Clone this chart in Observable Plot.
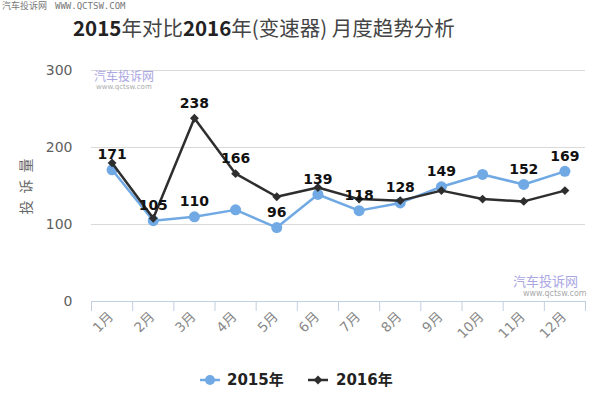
<!DOCTYPE html>
<html><head><meta charset="utf-8">
<script src="https://cdn.jsdelivr.net/npm/d3@7"></script>
<script src="https://cdn.jsdelivr.net/npm/@observablehq/plot@0.6"></script>
<style>
body{margin:0;background:#fff;}
#wrap{position:relative;width:600px;height:410px;overflow:hidden;font-family:"DejaVu Sans","Noto Sans CJK SC",sans-serif;}
#chart{position:absolute;left:0;top:0;}
.abs{position:absolute;white-space:nowrap;}
#title{left:73px;top:12px;font-size:20.5px;color:#444;font-family:"Noto Sans CJK SC",sans-serif;line-height:30px;}
#title b{color:#222;font-weight:bold;}
#ytitle{left:25px;top:183px;transform:translate(-50%,-50%) rotate(-90deg);font-size:14px;color:#666;letter-spacing:7px;font-family:"Noto Sans CJK SC",sans-serif;}
.legtxt{font-size:15px;font-weight:bold;color:#222;top:370px;line-height:20px;}
.wm1{font-family:"Noto Sans CJK SC",sans-serif;color:#aaa6e2;}
.wm2{color:#aaa;}
</style></head>
<body>
<div id="wrap">
  <div class="abs" style="left:2px;top:0px;font-size:9px;color:#777;font-family:'Noto Sans CJK SC',sans-serif;line-height:12px;">汽车投诉网 <span style="font-family:'DejaVu Sans Mono',monospace;margin-left:6px;">WWW.QCTSW.COM</span></div>
  <div id="title" class="abs"><b>2015</b>年对比<b>2016</b>年(变速器) 月度趋势分析</div>
  <div id="chart"></div>
  <div id="ytitle" class="abs">投诉量</div>
  <div class="abs wm1" style="left:94px;top:67px;font-size:12px;">汽车投诉网</div>
  <div class="abs wm2" style="left:96px;top:83px;font-size:7px;">www.qctsw.com</div>
  <div class="abs wm1" style="left:513px;top:271px;font-size:13px;">汽车投诉网</div>
  <div class="abs wm2" style="left:523px;top:289px;font-size:8px;">www.qctsw.com</div>
  <svg class="abs" style="left:195px;top:370px" width="30" height="20" id="sw1"></svg>
  <div class="abs legtxt" style="left:227px;">2015年</div>
  <svg class="abs" style="left:303px;top:370px" width="30" height="20" id="sw2"></svg>
  <div class="abs legtxt" style="left:336px;">2016年</div>
</div>
<script>
const months = [1,2,3,4,5,6,7,8,9,10,11,12];
const monthLabels = ["1月","2月","3月","4月","5月","6月","7月","8月","9月","10月","11月","12月"];
const v2015 = [171,105,110,119,96,139,118,128,149,165,152,169];
const v2016 = [180,108,238,166,136,148,133,131,144,133,130,144];
const labeled2015 = [1,2,3,5,6,7,8,9,11,12];
const labeled2016 = [3,4];
const yTicks = [0,100,200,300];
const gridTicks = [100,200,300];

const blue = "#70a9e4";
const dark = "#2e2e2e";

const rows15 = months.map((m,i)=>({month:m, value:v2015[i]}));
const rows16 = months.map((m,i)=>({month:m, value:v2016[i]}));
const lab15 = rows15.filter(d=>labeled2015.includes(d.month));
const lab16 = rows16.filter(d=>labeled2016.includes(d.month));
const xlab = months.map((m,i)=>({month:m, label:monthLabels[i]}));
const bounds = [months[0]-0.5, ...months.map(m=>m+0.5)];

const chart = Plot.plot({
  width:600, height:410,
  marginTop:70, marginBottom:109, marginLeft:91, marginRight:15,
  x:{type:"linear", domain:[months[0]-0.5, months[months.length-1]+0.5], axis:null},
  y:{domain:[0,300], axis:null},
  style:{fontFamily:"DejaVu Sans", background:"transparent"},
  marks:[
    Plot.ruleY(gridTicks, {stroke:"#d9d9d9", strokeWidth:1}),
    Plot.ruleY([0], {stroke:"#c0d0e0", strokeWidth:1}),
    Plot.ruleX(bounds, {y1:0, y2:0, insetBottom:-10, stroke:"#c0d0e0", strokeWidth:1}),
    Plot.axisY(yTicks, {tickSize:0, tickPadding:19, fontSize:14, fill:"#606060", label:null}),
    Plot.text(xlab, {x:"month", y:()=>0, text:"label", rotate:-45, textAnchor:"end", dx:-1, dy:13, fontSize:13.5, fill:"#888", fontFamily:"DejaVu Sans, Noto Sans CJK SC"}),
    Plot.line(rows15, {x:"month", y:"value", stroke:blue, strokeWidth:2.5}),
    Plot.dot(rows15, {x:"month", y:"value", fill:blue, r:5.5, stroke:null}),
    Plot.line(rows16, {x:"month", y:"value", stroke:dark, strokeWidth:2.5}),
    Plot.dot(rows16, {x:"month", y:"value", fill:dark, symbol:"diamond2", r:4, stroke:null}),
    Plot.text(lab15, {x:"month", y:"value", text:d=>String(d.value), dy:-15, fontSize:14, fontWeight:"bold", fill:"#111"}),
    Plot.text(lab16, {x:"month", y:"value", text:d=>String(d.value), dy:-15, fontSize:14, fontWeight:"bold", fill:"#111"})
  ]
});
document.getElementById("chart").appendChild(chart);

function swatch(id, color, shape){
  const s = d3.select("#"+id);
  s.append("line").attr("x1",5).attr("x2",25).attr("y1",10).attr("y2",10).attr("stroke",color).attr("stroke-width",2.5);
  if(shape==="circle") s.append("circle").attr("cx",15).attr("cy",10).attr("r",5).attr("fill",color);
  else s.append("path").attr("d",d3.symbol(d3.symbolDiamond2, 50)()).attr("transform","translate(15,10)").attr("fill",color);
}
swatch("sw1", blue, "circle");
swatch("sw2", dark, "diamond");
</script>
</body></html>
